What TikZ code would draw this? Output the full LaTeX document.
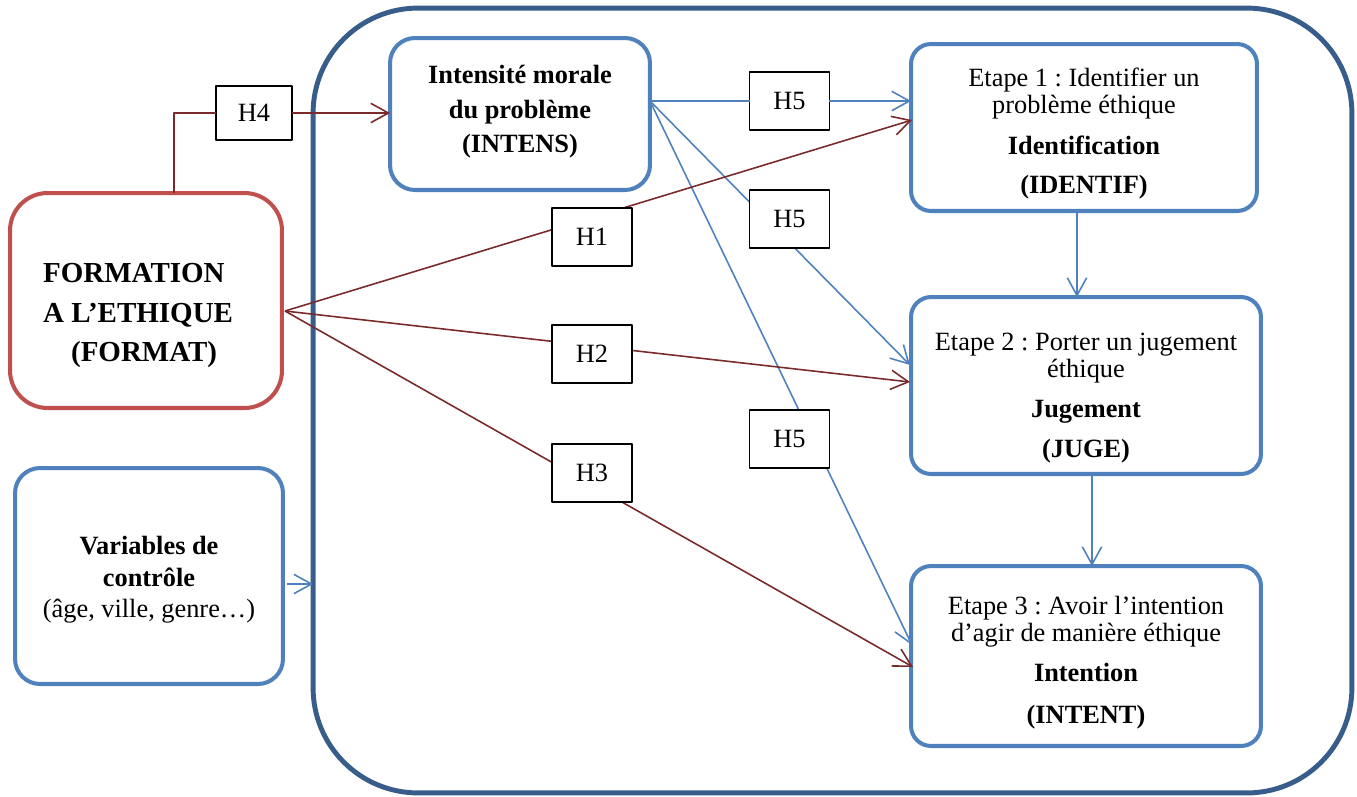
\documentclass[tikz,border=0pt]{standalone}
\usepackage{fontspec}
\setmainfont{Liberation Serif}
\usetikzlibrary{arrows.meta}
\definecolor{frameblue}{RGB}{56,93,138}
\definecolor{boxblue}{RGB}{79,129,189}
\definecolor{boxred}{RGB}{192,80,77}
\definecolor{linkred}{RGB}{122,42,42}
\newcommand{\topgap}[1]{\rule{0pt}{#1}}
\newcommand{\botgap}[1]{\rule[-#1]{0pt}{0pt}}
\frenchspacing
\begin{document}
\begin{tikzpicture}[x=0.02cm, y=-0.02cm, line join=round, font=\fontsize{15}{15.3}\selectfont,
 >={Straight Barb[length=10pt,width=11pt]},
 box/.style={draw=boxblue, line width=2.3pt, rounded corners=0.45cm, outer sep=0pt, inner sep=0pt, align=center},
 hyp/.style={draw=black, line width=1.1pt, fill=white, minimum width=1.6cm, minimum height=1.16cm, inner sep=0pt, outer sep=0pt},
 link/.style={draw=linkred, line width=0.9pt},
 blink/.style={draw=boxblue, line width=0.9pt}]
 \useasboundingbox (0,0) rectangle (1357,796);
 % cadre et blocs
 \node[draw=frameblue, line width=2.8pt, rounded corners=2.1cm, minimum width=20.78cm, minimum height=15.7cm, outer sep=0pt] (Frame) at (832.5,400.5) {};
 \node[box, rounded corners=0.5cm, minimum width=5.2cm, minimum height=3.04cm] (Intens) at (520,114) {\textbf{Intensité morale}\\[4.5pt]\textbf{du problème}\\[4.5pt]\textbf{(INTENS)}\botgap{5.8pt}};
 \node[box, rounded corners=0.4cm, minimum width=6.92cm, minimum height=3.34cm] (Identif) at (1084,127.5) {\topgap{17.5pt}Etape 1 : Identifier un\\problème éthique\\[8pt]\textbf{Identification}\\[6.8pt]\textbf{(IDENTIF)}};
 \node[box, rounded corners=0.4cm, minimum width=7cm, minimum height=3.54cm] (Juge) at (1086,385.5) {\topgap{24.4pt}Etape 2 : Porter un jugement\\éthique\\[7.6pt]\textbf{Jugement}\\[7.6pt]\textbf{(JUGE)}};
 \node[box, rounded corners=0.4cm, minimum width=7cm, minimum height=3.6cm] (Intent) at (1086,656) {\topgap{18.2pt}Etape 3 : Avoir l’intention\\d’agir de manière éthique\\[7.6pt]\textbf{Intention}\\[8.5pt]\textbf{(INTENT)}};
 \node[box, draw=boxred, align=left, rounded corners=0.75cm, minimum width=5.44cm, minimum height=4.3cm, font=\fontsize{16.5}{22.4}\selectfont\bfseries] (Format) at (146,300.5) {\topgap{28.2pt}FORMATION\\A L’ETHIQUE\hspace*{9pt}\mbox{}\\\hspace*{15.9pt}(FORMAT)};
 \node[box, rounded corners=0.5cm, minimum width=5.36cm, minimum height=4.32cm, font=\fontsize{15}{18.1}\selectfont] (Var) at (149,576) {\topgap{14.8pt}\textbf{Variables de}\\\textbf{contrôle}\\(âge, ville, genre…)};
 % points de depart
 \coordinate (intOut) at (650,101);
 \coordinate (fmtOut) at (285,311);
 \coordinate (fmtTop) at (174,193);
 \coordinate (varOut) at (287,584);
 \coordinate (idIn) at (912,120);
 \coordinate (jugIn1) at (910,365);
 \coordinate (jugIn2) at (910,382);
 \coordinate (entIn1) at (912,645);
 \coordinate (entIn2) at (913,667);
 % liens qui passent sous les hypotheses
 \draw[blink,->] (intOut) -- (jugIn1);
 \draw[blink,->] (intOut) -- (entIn1);
 \draw[link,->] (fmtOut) -- (idIn);
 \draw[link,->] (fmtOut) -- (jugIn2);
 \draw[link,->] (fmtOut) -- (entIn2);
 % hypotheses
 \node[hyp, minimum width=1.52cm, minimum height=1.08cm] (H4) at (254,113) {H4};
 \node[hyp] (H5a) at (789.5,101) {H5};
 \node[hyp] (H5b) at (789.5,219) {H5};
 \node[hyp] (H5c) at (789.5,439) {H5};
 \node[hyp] (H1) at (592,237) {H1};
 \node[hyp] (H2) at (592,354) {H2};
 \node[hyp] (H3) at (592,473) {H3};
 % autres liens
 \draw[link,->] (fmtTop) |- (H4) -- (H4 -| Intens.west);
 \draw[blink] (intOut) -- (H5a);
 \draw[blink,->] (H5a) -- (H5a -| Identif.west);
 \draw[blink,->] ([xshift=-0.14cm]Identif.south) -- ([xshift=-0.14cm]Identif.south |- Juge.north);
 \draw[blink,->] ([xshift=0.12cm]Juge.south) -- ([xshift=0.12cm]Juge.south |- Intent.north);
 \draw[blink,->] (varOut) -- (varOut -| Frame.west);
\end{tikzpicture}
\end{document}
